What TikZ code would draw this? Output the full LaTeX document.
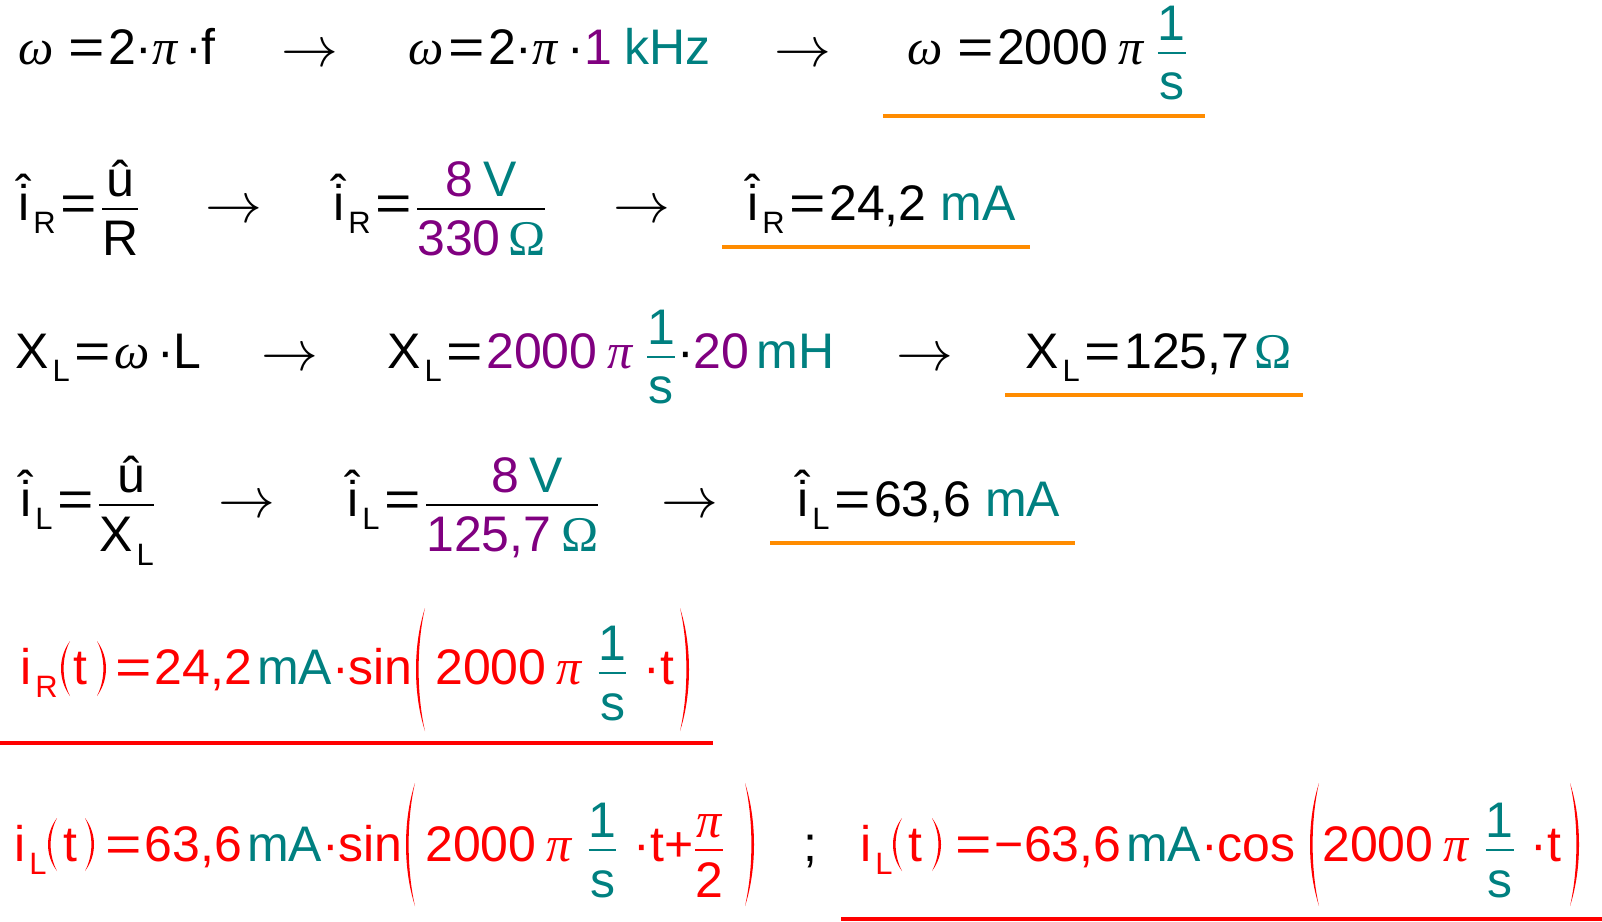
\documentclass[tikz,border=0pt]{standalone}
\usepackage{amsmath}
\usepackage{graphicx}
\usepackage{fontspec}
\setmainfont{Liberation Sans}
\newfontfamily\grk{Liberation Serif}

\definecolor{mpurple}{RGB}{128,0,128}
\definecolor{mteal}{RGB}{0,128,128}
\definecolor{morange}{RGB}{255,140,0}
\definecolor{mred}{RGB}{255,0,0}

\newcommand\om{{\grk\itshape ω}}
\newcommand\p{{\grk\itshape π}}
\newcommand\ohm{{\grk Ω}}
\newcommand\cdt{·}
\newcommand\eqs{\hspace{.1em}\scalebox{1.25}[1]{=}\hspace{.06em}}
\newcommand\pu[1]{\textcolor{mpurple}{#1}}
\newcommand\te[1]{\textcolor{mteal}{#1}}
\newcommand\sub[1]{\hspace{.08em}\raisebox{-0.27em}{\fontsize{17.6}{20}\selectfont #1}}
\newcommand\hati{\ooalign{i\cr\hidewidth\raisebox{0.2em}{ˆ}\hidewidth\cr}}
\newcommand\fr[2]{\ensuremath{\genfrac{}{}{1.5pt}{0}{\raisebox{-0.13em}{#1}}{\raisebox{-0.12em}{#2}}}}
% thin drawn brackets: x, top y, bottom y
\newcommand\lpar[3]{\fill[mred] (#1+10,#2) .. controls (#1-2,{#2+0.3*(#3-#2)}) and (#1-2,{#2+0.7*(#3-#2)}) .. (#1+10,#3)
  .. controls (#1+1.5,{#2+0.7*(#3-#2)}) and (#1+1.5,{#2+0.3*(#3-#2)}) .. (#1+10,#2) -- cycle;}
\newcommand\rpar[3]{\fill[mred] (#1,#2) .. controls (#1+12,{#2+0.3*(#3-#2)}) and (#1+12,{#2+0.7*(#3-#2)}) .. (#1,#3)
  .. controls (#1+8.5,{#2+0.7*(#3-#2)}) and (#1+8.5,{#2+0.3*(#3-#2)}) .. (#1,#2) -- cycle;}

\begin{document}
\begin{tikzpicture}[
    x=0.02cm, y=-0.02cm,
    eq/.style={anchor=base west, inner sep=0pt, font=\fontsize{28.45}{34}\selectfont},
    arr/.style={anchor=base, inner sep=0pt, font=\fontsize{25.6}{30}\selectfont},
    okline/.style={draw=morange, line width=0.08cm},
    resline/.style={draw=mred, line width=0.08cm}
  ]
  \useasboundingbox (0,0) rectangle (1602,921);

  % omega
  \node[eq] (w1) at (18,64) {\om\hspace{.2em}\eqs2\cdt\p\hspace{.15em}\cdt f};
  \node[arr] (a11) at (310,66) {\scalebox{1.3}{$\rightarrow$}};
  \node[eq] (w2) at (408,64) {\om\eqs2\cdt\p\hspace{.2em}\cdt\pu{1}\hspace{.25em}\te{kHz}};
  \node[arr] (a12) at (803,66) {\scalebox{1.3}{$\rightarrow$}};
  \node[eq] (w3) at (907,64) {\om\hspace{.2em}\eqs2000\hspace{.2em}\p\hspace{.25em}\te{\fr{1}{s}}};
  \draw[okline] (883,116) -- (1205,116);

  % i_R peak
  \node[eq] (iR1) at (18,220) {\hati\sub{R}\eqs\fr{û}{R}};
  \node[arr] (a21) at (234,222) {\scalebox{1.3}{$\rightarrow$}};
  \node[eq] (iR2) at (333,220) {\hati\sub{R}\eqs\fr{\pu{8}\hspace{.2em}\te{V}}{\pu{330}\hspace{.15em}\te{\ohm}}};
  \node[arr] (a22) at (642,222) {\scalebox{1.3}{$\rightarrow$}};
  \node[eq] (iR3) at (747,220) {\hati\sub{R}\eqs24,2 \te{mA}};
  \draw[okline] (722,247) -- (1030,247);

  % X_L
  \node[eq] (XL1) at (15,368) {X\sub{L}\eqs\om\hspace{.15em}\cdt L};
  \node[arr] (a31) at (290,370) {\scalebox{1.3}{$\rightarrow$}};
  \node[eq] (XL2) at (387,368) {X\sub{L}\eqs\pu{2000}\hspace{.2em}\pu{\p}\hspace{.25em}\te{\fr{1}{s}}\cdt\pu{20}\hspace{.15em}\te{mH}};
  \node[arr] (a32) at (925,370) {\scalebox{1.3}{$\rightarrow$}};
  \node[eq] (XL3) at (1025,368) {X\sub{L}\eqs125,7\hspace{.1em}\te{\ohm}};
  \draw[okline] (1005,395) -- (1303,395);

  % i_L peak
  \node[eq] (iL1) at (20,516) {\hati\sub{L}\eqs\fr{\hspace{.2em}û}{X\sub{L}}};
  \node[arr] (a41) at (247,517) {\scalebox{1.3}{$\rightarrow$}};
  \node[eq] (iL2) at (347,516) {\hati\sub{L}\eqs\fr{\hspace{.6em}\pu{8}\hspace{.2em}\te{V}}{\pu{125,7}\hspace{.2em}\te{\ohm}}};
  \node[arr] (a42) at (690,517) {\scalebox{1.3}{$\rightarrow$}};
  \node[eq] (iL3) at (797,516) {\hati\sub{L}\eqs63,6 \te{mA}};
  \draw[okline] (770,543) -- (1075,543);

  % i_R(t)
  \node[eq, mred] (iR) at (20,684) {i\sub{R}};
  \node[eq, mred] (tR) at (73,684) {t};
  \node[eq, mred] (sinR) at (110,684) {\eqs24,2\hspace{.1em}\te{mA}\cdt sin};
  \node[eq, mred] (argR) at (435,684) {2000\hspace{.2em}\p\hspace{.3em}\te{\fr{1}{s}}\hspace{.3em}\cdt t};
  \lpar{60}{641}{696} \rpar{97}{641}{696}
  \lpar{415}{608}{731} \rpar{680}{608}{731}
  \draw[resline] (0,743) -- (713,743);

  % i_L(t)
  \node[eq, mred] (iLa) at (14,861) {i\sub{L}};
  \node[eq, mred] (tLa) at (63,861) {t};
  \node[eq, mred] (sinL) at (100,861) {\eqs63,6\hspace{.1em}\te{mA}\cdt sin};
  \node[eq, mred] (argLa) at (425,861) {2000\hspace{.2em}\p\hspace{.3em}\te{\fr{1}{s}}\hspace{.3em}\cdt t+\fr{\p}{2}};
  \lpar{47}{818}{871} \rpar{85}{818}{871}
  \lpar{405}{783}{906} \rpar{745}{783}{906}
  \node[eq] (semi) at (803,861) {;};
  \node[eq, mred] (iLb) at (860,861) {i\sub{L}};
  \node[eq, mred] (tLb) at (908,861) {t};
  \node[eq, mred] (cosL) at (950,861) {\eqs−63,6\hspace{.1em}\te{mA}\cdt cos};
  \node[eq, mred] (argLb) at (1322,861) {2000\hspace{.2em}\p\hspace{.3em}\te{\fr{1}{s}}\hspace{.3em}\cdt t};
  \lpar{892}{818}{871} \rpar{932}{818}{871}
  \lpar{1309}{783}{906} \rpar{1570}{783}{906}
  \draw[resline] (841,919) -- (1602,919);
\end{tikzpicture}
\end{document}
